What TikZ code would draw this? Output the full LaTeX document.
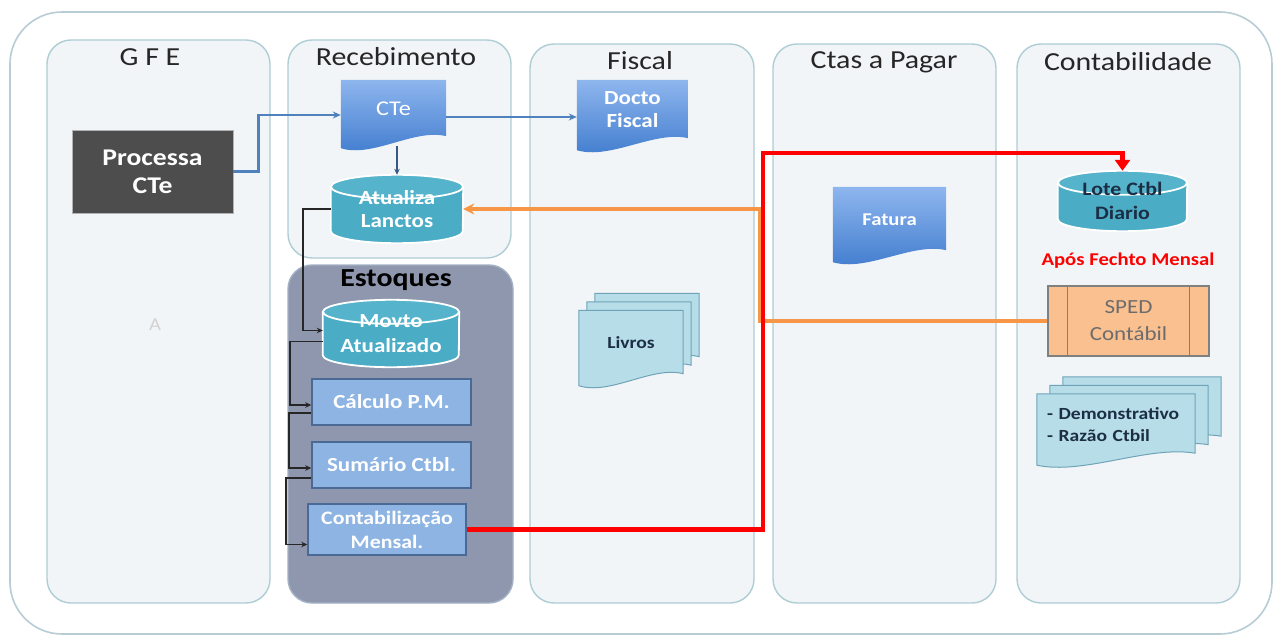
\documentclass[tikz,border=0pt]{standalone}
\usepackage{fontspec}
\setmainfont{Carlito}[FakeStretch=1.15]
\usetikzlibrary{calc,arrows.meta}
\pgfdeclarelayer{bg}
\pgfdeclarelayer{mid}
\pgfsetlayers{bg,mid,main}
\definecolor{lanefill}{HTML}{F2F5F7}
\definecolor{laneborder}{HTML}{AECDD5}
\definecolor{frameborder}{HTML}{B7CCD5}
\definecolor{stockfill}{HTML}{8E97AD}
\definecolor{stockborder}{HTML}{A3B1C4}
\definecolor{darkbox}{HTML}{4D4D4D}
\definecolor{boxblue}{HTML}{8DB4E2}
\definecolor{boxborder}{HTML}{4A6A95}
\definecolor{cylteal}{HTML}{4BACC6}
\definecolor{cyltopc}{HTML}{55B3CC}
\definecolor{docTop}{HTML}{8EB6EE}
\definecolor{docBot}{HTML}{3E7ACD}
\definecolor{stackfillc}{HTML}{B7DDE8}
\definecolor{stackborder}{HTML}{6FA4B8}
\definecolor{spedfill}{HTML}{FAC090}
\definecolor{spedborder}{HTML}{7F8080}
\definecolor{blueline}{HTML}{4F81BD}
\definecolor{orangeline}{HTML}{F79646}
\definecolor{redline}{HTML}{FF0000}
\definecolor{titlecol}{HTML}{262626}
\definecolor{navytext}{HTML}{1C2E44}
\tikzset{
  frame/.style={draw=frameborder, line width=1.6pt, fill=white, rounded corners=52pt},
  lane/.style={draw=laneborder, line width=1.4pt, fill=lanefill, rounded corners=24pt, inner sep=0pt},
  stocklane/.style={draw=stockborder, line width=1.4pt, fill=stockfill, rounded corners=24pt, inner sep=0pt},
  title/.style={text=titlecol, inner sep=0pt, font=\fontsize{26}{30}\selectfont},
  procbox/.style={fill=boxblue, draw=boxborder, line width=1.5pt, text=white, align=center, inner sep=0pt, font=\bfseries\fontsize{20}{25}\selectfont},
  darkproc/.style={fill=darkbox, draw=gray!60, line width=0.8pt, text=white, align=center, inner sep=0pt, font=\bfseries\fontsize{24}{28}\selectfont},
  docnode/.style={inner sep=0pt, text=white, align=center},
  docfill/.style={top color=docTop, bottom color=docBot, draw=none},
  stackstyle/.style={fill=stackfillc, draw=stackborder, line width=1pt},
  cylnode/.style={inner sep=0pt, align=center, font=\bfseries\fontsize{20}{27}\selectfont},
  cylbody/.style={fill=cylteal, draw=white, line width=1.8pt},
  cyltop/.style={fill=cyltopc, draw=white, line width=1.8pt},
  blueconn/.style={draw=blueline, line width=2.2pt, -{Stealth[length=8pt,width=7pt]}},
  blkconn/.style={draw=black!85, line width=1.9pt, -{Stealth[length=6pt,width=5.5pt]}},
  orangeconn/.style={draw=orangeline, line width=3.4pt, -{Stealth[length=11pt,width=11pt]}},
  redconn/.style={draw=redline, line width=4.4pt, -{Triangle[length=11pt,width=15pt]}},
}
\newcommand\docshape[3]{%
  \path[#2] ($(#1.north west)+#3$) -- ($(#1.north east)+#3$) -- ($(#1.south east)+(0,-2)+#3$)
    .. controls ($(#1.south east)!0.3!(#1.south west)+(0,-10)+#3$) and ($(#1.south east)!0.7!(#1.south west)+(0,20)+#3$)
    .. ($(#1.south west)+(0,10)+#3$) -- cycle;}
\newcommand\cylshape[2]{%
  \path[cylbody] ([yshift=-12pt]#1.north west) -- ([yshift=12pt]#1.south west)
    arc[start angle=180,end angle=360,x radius=#2pt,y radius=12pt] -- ([yshift=-12pt]#1.north east) -- cycle;
  \path[cyltop] ([yshift=-12pt]#1.north) ellipse[x radius=#2pt,y radius=12pt];}
\begin{document}
\begin{tikzpicture}[x=1pt,y=-1pt]
\useasboundingbox (0,0) rectangle (1279,639);
\begin{pgfonlayer}{bg}
  \path[frame] (10,12) rectangle (1272,634);
  \node[lane, minimum width=223pt, minimum height=563pt] (gfe) at (158.5,321.5) {};
  \node[lane, minimum width=223pt, minimum height=218pt] (receb) at (399.5,149) {};
  \node[stocklane, minimum width=225pt, minimum height=338pt] (estoq) at (400.5,434) {};
  \node[lane, minimum width=224pt, minimum height=559pt] (fiscal) at (642,323.5) {};
  \node[lane, minimum width=223pt, minimum height=559pt] (ctas) at (884.5,323.5) {};
  \node[lane, minimum width=223pt, minimum height=559pt] (contabil) at (1128.5,323.5) {};
\end{pgfonlayer}
% titles
\node[title] (tgfe) at (150,57) {G F E};
\node[title] (treceb) at (396,57) {Recebimento};
\node[title] (tfiscal) at (640,61) {Fiscal};
\node[title] (tctas) at (884,62) {Ctas a Pagar};
\node[title] (tcontab) at (1128,62) {Contabilidade};
\node[title, text=black, font=\bfseries\fontsize{26}{30}\selectfont] (testoq) at (396,280) {Estoques};
\node[text=gray!35, font=\fontsize{18}{20}\selectfont] (faintA) at (155,325) {A};
% GFE
\node[darkproc, minimum width=161pt, minimum height=83pt] (processa) at (152.5,171.5) {Processa\\CTe};
% documents
\node[docnode, minimum width=105pt, minimum height=58pt, font=\fontsize{21}{25}\selectfont] (cte) at (393.5,109) {CTe};
\node[docnode, minimum width=111pt, minimum height=60pt, font=\bfseries\fontsize{20}{23}\selectfont] (docto) at (632.5,110) {Docto\\Fiscal};
\node[docnode, minimum width=113pt, minimum height=65pt, font=\bfseries\fontsize{18}{22}\selectfont] (fatura) at (889.5,219.5) {Fatura};
\node[inner sep=0pt, minimum width=104pt, minimum height=65pt, text=navytext, font=\bfseries\fontsize{17}{20}\selectfont] (livros) at (631,343) {Livros};
\node[inner sep=0pt, inner xsep=10pt, minimum width=158pt, minimum height=61pt, text width=138pt, align=left, text=navytext, font=\bfseries\fontsize{17}{22}\selectfont] (demo) at (1116,424.5) {- Demonstrativo\\- Razão Ctbil\\[4pt]};
\begin{pgfonlayer}{mid}
  \docshape{cte}{docfill}{(0,0)}
  \docshape{docto}{docfill}{(0,0)}
  \docshape{fatura}{docfill}{(0,0)}
  \docshape{livros}{stackstyle}{(16,-17)}
  \docshape{livros}{stackstyle}{(8,-8.5)}
  \docshape{livros}{stackstyle}{(0,0)}
  \docshape{demo}{stackstyle}{(26,-17)}
  \docshape{demo}{stackstyle}{(13,-8.5)}
  \docshape{demo}{stackstyle}{(0,0)}
\end{pgfonlayer}
% cylinders
\node[cylnode, minimum width=132pt, minimum height=68pt, text=white] (atual) at (397,209) {\raisebox{-4pt}{Atualiza}\\Lanctos};
\node[cylnode, minimum width=136pt, minimum height=67pt, text=white] (movto) at (391,333.5) {\raisebox{-2pt}{Movto}\\Atualizado};
\node[cylnode, minimum width=129pt, minimum height=60pt, text=navytext, font=\bfseries\fontsize{19}{24}\selectfont] (lote) at (1122.5,201) {Lote Ctbl\\Diario};
\begin{pgfonlayer}{mid}
  \cylshape{atual}{66}
  \cylshape{movto}{68}
  \cylshape{lote}{64.5}
\end{pgfonlayer}
% estoques boxes
\node[procbox, minimum width=159pt, minimum height=46pt] (calc) at (391.5,402) {Cálculo P.M.};
\node[procbox, minimum width=159pt, minimum height=46pt] (sum) at (391.5,465) {Sumário Ctbl.};
\node[procbox, minimum width=158pt, minimum height=51pt, font=\bfseries\fontsize{19}{24}\selectfont] (contab) at (387,529.5) {Contabilização\\Mensal.};
% contabilidade
\node[text=redline, inner sep=0pt, font=\bfseries\fontsize{18}{20}\selectfont] (apos) at (1128,261) {Após Fechto Mensal};
\node[fill=spedfill, draw=spedborder, line width=1.4pt, minimum width=161pt, minimum height=70pt, inner sep=0pt, align=center, text=gray!85!black, font=\fontsize{20}{27}\selectfont] (sped) at (1128.5,321) {SPED\\Contábil};
\draw[spedborder, line width=1.4pt] ([xshift=20pt]sped.north west) -- ([xshift=20pt]sped.south west);
\draw[spedborder, line width=1.4pt] ([xshift=-20pt]sped.north east) -- ([xshift=-20pt]sped.south east);
% connectors
\draw[blueconn] (processa.east) -- ++(25,0) |- ([yshift=-6pt]cte.west);
\draw[blueconn] ([yshift=-8pt]cte.east) -- ([yshift=-8pt]cte.east -| docto.west);
\draw[draw=blueline!70!black, line width=1.6pt, -{Stealth[length=6pt,width=5.5pt]}] ([yshift=-8pt]cte.south -| atual.north) -- (atual.north);
\draw[orangeconn] (sped.west) -- ++(-288,0) |- (atual.east);
\draw[redconn] (contab.east) -- ++(296,0) |- ([yshift=18pt]lote.north) -- (lote.north);
\draw[blkconn] (atual.west) -- ++(-28,0) |- ([yshift=3pt]movto.west);
\draw[blkconn] ([yshift=-8pt]movto.west) -- ++(-33,0) |- ([yshift=-3pt]calc.west);
\draw[blkconn] ([yshift=-11pt]calc.west) -- ++(-22,0) |- ([yshift=-3pt]sum.west);
\draw[blkconn] ([yshift=-13pt]sum.west) -- ++(-25,0) |- ([yshift=-15pt]contab.west);
\end{tikzpicture}
\end{document}
